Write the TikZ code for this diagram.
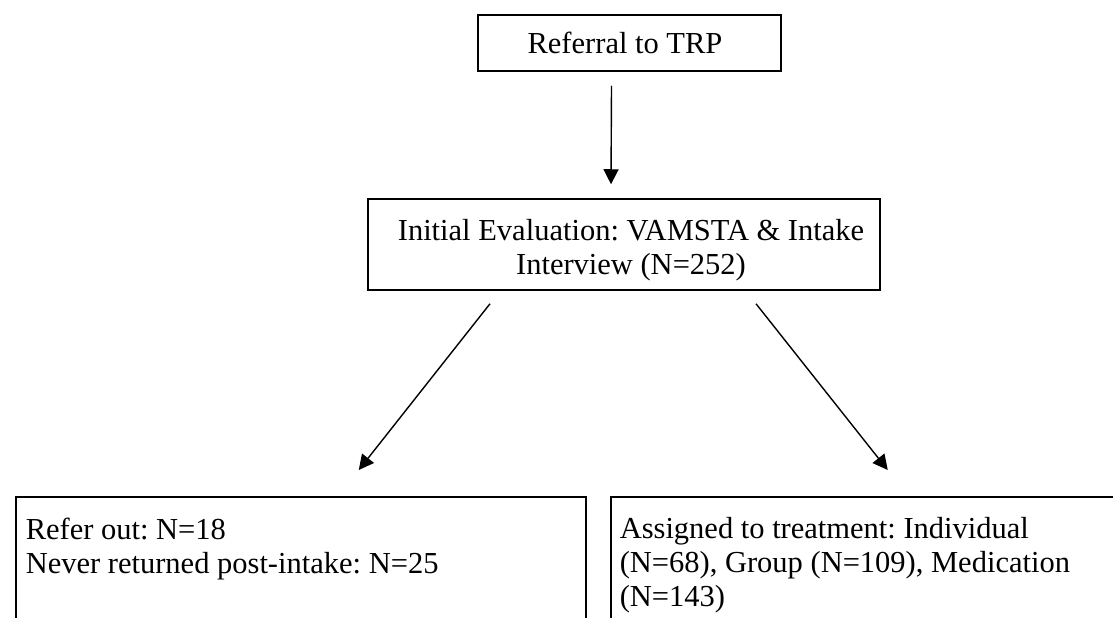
\documentclass[tikz,border=0pt]{standalone}
\usepackage{fontspec}
\setmainfont{Liberation Serif}
\usetikzlibrary{arrows.meta}
\frenchspacing
\begin{document}
\begin{tikzpicture}[x=1pt,y=-1pt,
  box/.style={draw, line width=1.5pt, font=\fontsize{30.5}{34}\selectfont},
  arr/.style={-{Triangle[length=15pt,width=15pt]}, line width=1.4pt}]
\useasboundingbox (0,0) rectangle (1113,618);
\clip (0,0) rectangle (1113,618);
\node[box, minimum width=303pt, minimum height=56pt, inner sep=0pt] (top) at (629.5,43) {\hspace*{-9pt}Referral to TRP};
\node[box, inner sep=0pt] (mid) at (624,244.5)
  {\parbox[c][91pt][c]{512pt}{\centering\vspace*{11pt}\hspace*{14pt}Initial Evaluation: VAMSTA \& Intake\\\hspace*{14pt}Interview (N=252)}};
\node[box, anchor=north west, minimum width=570pt, inner xsep=10pt, inner ysep=21pt] (left) at (15,496)
  {\parbox[t][140pt][t]{550pt}{\raggedright Refer out: N=18\\Never returned post-intake: N=25}};
\node[box, anchor=north west, minimum width=515pt, inner xsep=7pt, inner ysep=21pt] (right) at (610,496)
  {\parbox[t][140pt][t]{497pt}{\raggedright Assigned to treatment: Individual\\(N=68), Group (N=109), Medication\\(N=143)}};
\draw[arr] ([xshift=-18pt,yshift=-14pt]top.south) -- ([xshift=-13pt,yshift=14pt]mid.north);
\draw[arr] ([xshift=-134pt,yshift=-13pt]mid.south) -- ([xshift=58pt,yshift=26pt]left.north);
\draw[arr] ([xshift=132pt,yshift=-13pt]mid.south) -- ([xshift=19.5pt,yshift=26pt]right.north);
\end{tikzpicture}
\end{document}
